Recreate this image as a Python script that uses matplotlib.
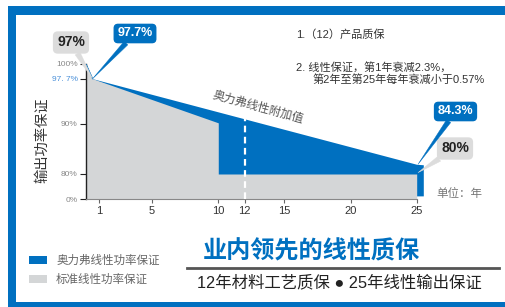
import numpy as np
import matplotlib.pyplot as plt
from matplotlib.patches import Rectangle
from matplotlib.lines import Line2D

plt.rcParams["font.family"] = ["Liberation Sans", "Noto Sans CJK SC", "DejaVu Sans"]

# ---- data ----
years_blue = [0, 0.5, 25, 25.5]
power_blue = [100, 97.7, 84.3, 84.1]
blue_floor = 10

years_std = [0, 0.5, 10, 10, 25]
power_std = [100, 97.7, 90.2, 80, 80]

x_ticks = [1, 5, 10, 12, 15, 20, 25]
y_ticks = [0, 80, 90, 97.7, 100]
y_tick_labels = ["0%", "80%", "90%", "97. 7%", "100%"]
dash_year = 12

# schematic (broken) y axis: value -> relative height
knot_vals = [0, 80, 84.3, 90, 97.7, 100]
knot_pos = [0, 25, 34.7, 75, 120.3, 135]


def forward(v):
    return np.interp(v, knot_vals, knot_pos)


def inverse(p):
    return np.interp(p, knot_pos, knot_vals)


BLUE = "#0070c0"
GRAY = "#d4d6d7"
W, H = 506, 307


def fx(px):
    return px / W


def fy(py):
    return 1 - py / H


fig = plt.figure(figsize=(W / 100, H / 100), dpi=100)
ax = fig.add_axes([fx(86), fy(199), fx(423.3) - fx(86), fy(64) - fy(199)])
ax.set_yscale("function", functions=(forward, inverse))

blue_fill = ax.fill_between(years_blue, blue_floor, power_blue, color=BLUE, lw=0, zorder=1,
                            label="奥力弗线性功率保证")
std_fill = ax.fill_between(years_std, 0, power_std, color=GRAY, lw=0, zorder=2,
                           label="标准线性功率保证")
ax.plot(years_blue[:2], power_blue[:2], color=BLUE, lw=0.8, zorder=3)

# white dashed marker at year 12, up to the blue line
top12 = inverse(np.interp(dash_year, years_blue, forward(np.array(power_blue))))
ax.vlines(dash_year, 0, top12, colors="white", linestyles=(0, (3, 2)), lw=1.6, zorder=3)

ax.set_xlim(0, 25.5)
ax.set_ylim(0, 100)
for s in ["top", "right"]:
    ax.spines[s].set_visible(False)
ax.spines["bottom"].set_bounds(0, 25)
ax.spines["bottom"].set_color("#888888")
ax.spines["left"].set_color("#222222")
ax.spines["left"].set_linewidth(1.0)

ax.set_xticks(x_ticks)
ax.set_xticklabels([str(t) for t in x_ticks], fontsize=8, color="#333333")
ax.tick_params(axis="x", length=3, width=0.8, color="#666666", pad=2)
ax.set_yticks(y_ticks)
ax.set_yticklabels(y_tick_labels, fontsize=6)
ax.yaxis.set_minor_locator(plt.NullLocator())
ax.tick_params(axis="y", length=4, width=0.8, color="#222222", pad=2)
for lbl in ax.get_yticklabels():
    lbl.set_color("#4a90d9" if "97" in lbl.get_text() else "#888888")
ax.set_facecolor("none")


def callout(text, xy, center, fc, tc, size, weight):
    ax.annotate(text, xy=xy, xycoords="data",
                xytext=(center[0], H - center[1]), textcoords="figure pixels",
                ha="center", va="center", fontsize=size, color=tc, fontweight=weight,
                bbox=dict(boxstyle="round,pad=0.25,rounding_size=0.3", fc=fc, ec=fc),
                arrowprops=dict(arrowstyle="wedge,tail_width=0.4,shrink_factor=0.5",
                                fc=fc, ec=fc, lw=0.3, shrinkA=0, shrinkB=0),
                annotation_clip=False, zorder=6)


callout("97%", (0.5, 97.7), (71, 42.5), "#dcdcdc", "#222222", 10, "bold")
callout("97.7%", (0.5, 97.7), (135, 33.5), BLUE, "white", 9, "bold")
callout("80%", (25.1, 80.6), (455, 148.5), "#dcdcdc", "#222222", 10, "bold")
callout("84.3%", (25.1, 84.3), (455.5, 111.5), BLUE, "white", 9, "bold")

fig.text(fx(258), fy(107), "奥力弗线性附加值", rotation=-15.4, rotation_mode="anchor",
         ha="center", va="center", fontsize=8.5, color="#555555", zorder=4)

fig.text(fx(42), fy(140), "输出功率保证", rotation=90, ha="center", va="center",
         fontsize=10.3, color="#333333")
fig.text(fx(436), fy(194), "单位：年", ha="left", va="center", fontsize=8.3, color="#777777")

fig.text(fx(296), fy(35), "1.（12）产品质保", ha="left", va="center", fontsize=8, color="#333333")
fig.text(fx(296), fy(67), "2. 线性保证，第1年衰减2.3%，", ha="left", va="center",
         fontsize=8, color="#333333")
fig.text(fx(312.5), fy(80), "第2年至第25年每年衰减小于0.57%", ha="left", va="center",
         fontsize=8, color="#333333")

# legend
fig.legend(handles=[blue_fill, std_fill], loc="center left", bbox_to_anchor=(fx(29), fy(270.5)),
           frameon=False, fontsize=8.3, labelcolor="#666666", handlelength=1.55,
           handleheight=0.6, handletextpad=0.8, labelspacing=0.6, borderpad=0, borderaxespad=0)

# headline
fig.text(fx(311.5), fy(252), "业内领先的线性质保", ha="center", va="center", fontsize=17.4,
         fontweight="bold", color=BLUE)
fig.add_artist(Line2D([fx(187), fx(499)], [fy(268), fy(268)], transform=fig.transFigure,
                      color="#555555", lw=2))
fig.text(fx(339.5), fy(282.5), "12年材料工艺质保 ● 25年线性输出保证", ha="center", va="center",
         fontsize=11.8, color="#222222")

# blue frame
for x0, y0, x1, y1 in [(8, 6, 506, 15), (8, 6, 16, 307), (8, 301.5, 506, 307)]:
    fig.add_artist(Rectangle((fx(x0), fy(y1)), fx(x1) - fx(x0), fy(y0) - fy(y1),
                             transform=fig.transFigure, color=BLUE, lw=0))

fig.savefig("out.png", dpi=100)
